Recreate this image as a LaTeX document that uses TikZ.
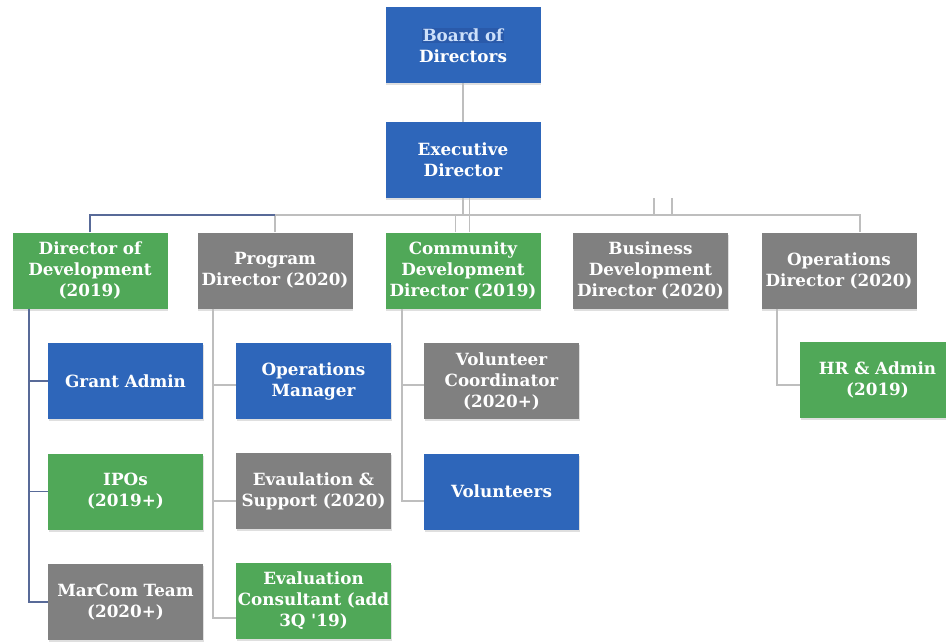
\documentclass[tikz,border=0pt]{standalone}
\usepackage{fontspec}
\setmainfont{DejaVu Serif}[Ligatures=TeXOff]
\usetikzlibrary{shadows}
\definecolor{boxblue}{RGB}{46,102,186}
\definecolor{boxgreen}{RGB}{80,168,88}
\definecolor{boxgray}{RGB}{128,128,128}
\definecolor{linegray}{RGB}{190,190,190}
\definecolor{lineblue}{RGB}{88,106,152}
\definecolor{hlblue}{RGB}{42,90,170}
\definecolor{hltext}{RGB}{205,224,250}
\newcommand\hlite[1]{{\setlength{\fboxsep}{1pt}\colorbox{hlblue}{\textcolor{hltext}{#1}}}}
\tikzset{
  orgbox/.style={rectangle, minimum width=155pt, minimum height=76pt,
    inner sep=0pt, text width=153pt, align=center, text=white,
    font=\fontsize{16.8}{21}\selectfont\bfseries,
    drop shadow={shadow xshift=0.8pt, shadow yshift=-2pt, opacity=0.25}},
  bluebox/.style={orgbox, fill=boxblue},
  greenbox/.style={orgbox, fill=boxgreen},
  graybox/.style={orgbox, fill=boxgray},
  gline/.style={draw=linegray, line width=1.2pt},
  bline/.style={draw=lineblue, line width=1.2pt},
}
\begin{document}
\begin{tikzpicture}[x=1pt, y=-1pt]
\clip (0,0) rectangle (946,641);
\fill[white] (0,0) rectangle (946,641);

% top of the chart
\node[bluebox] (board) at (463,45) {\hlite{Board of}\\Directors};
\node[bluebox] (exec) at (463,160) {Executive\\Director};

% directors row
\node[greenbox] (devdir) at (90,270.5) {Director of\\Development\\(2019)};
\node[graybox] (progdir) at (275,270.5) {Program\\Director (2020)};
\node[greenbox] (commdir) at (463,270.5) {Community\\Development\\Director (2019)};
\node[graybox] (busdir) at (650.5,270.5) {Business\\Development\\Director (2020)};
\node[graybox] (opsdir) at (839,270.5) {Operations\\Director (2020)};

% staff under each director
\node[bluebox] (grant) at (125.5,381) {Grant Admin};
\node[greenbox] (ipos) at (125.5,491.5) {IPOs\\(2019+)};
\node[graybox] (marcom) at (125.5,602) {MarCom Team\\(2020+)};

\node[bluebox] (opsmgr) at (313.5,381) {Operations\\Manager};
\node[graybox] (evalsup) at (313.5,491) {Evaulation \&\\Support (2020)};
\node[greenbox] (evalcon) at (313.5,601) {Evaluation\\Consultant (add\\3Q '19)};

\node[graybox] (volcoord) at (501.5,381) {Volunteer\\Coordinator\\(2020+)};
\node[bluebox] (volunteers) at (501.5,491.5) {Volunteers};

\node[greenbox] (hr) at (877.5,380) {HR \& Admin\\(2019)};

% connectors
\coordinate (bus) at (0,215);
\draw[gline] (board.south) -- (exec.north);
\draw[gline] (exec.south) -- (exec.south |- bus);
\draw[gline] ([xshift=6.5pt]exec.south) -- ([xshift=6.5pt]exec.south |- bus);
\draw[gline] (progdir.north) -- (progdir.north |- bus) -- ([xshift=21pt]opsdir.north |- bus) -- ([xshift=21pt]opsdir.north);
\draw[bline] (devdir.north) |- (progdir.north |- bus);
\draw[gline] ([xshift=-7.5pt]commdir.north) -- ([xshift=-7.5pt]commdir.north |- bus);
\draw[gline] ([xshift=6.5pt]commdir.north) -- ([xshift=6.5pt]commdir.north |- bus);
\draw[gline] ([xshift=3.5pt]busdir.north |- bus) -- ([xshift=3.5pt]busdir.north |- exec.south);
\draw[gline] ([xshift=21.5pt]busdir.north |- bus) -- ([xshift=21.5pt]busdir.north |- exec.south);

\draw[bline] ([xshift=-61pt]devdir.south) |- (marcom.west);
\draw[bline] ([xshift=-61pt]devdir.south |- grant.west) -- (grant.west);
\draw[bline] ([xshift=-61pt]devdir.south |- ipos.west) -- (ipos.west);

\draw[gline] ([xshift=-62pt]progdir.south) |- ([yshift=-17pt]evalcon.west);
\draw[gline] ([xshift=-62pt]progdir.south |- opsmgr.west) ++(0,4) -- ([yshift=-4pt]opsmgr.west);
\draw[gline] ([xshift=-62pt]progdir.south |- evalsup.west) ++(0,10) -- ([yshift=-10pt]evalsup.west);

\draw[gline] ([xshift=-61pt]commdir.south) |- ([yshift=-9.5pt]volunteers.west);
\draw[gline] ([xshift=-61pt]commdir.south |- volcoord.west) ++(0,4) -- ([yshift=-4pt]volcoord.west);

\draw[gline] ([xshift=-62pt]opsdir.south) |- ([yshift=-5pt]hr.west);
\end{tikzpicture}
\end{document}
